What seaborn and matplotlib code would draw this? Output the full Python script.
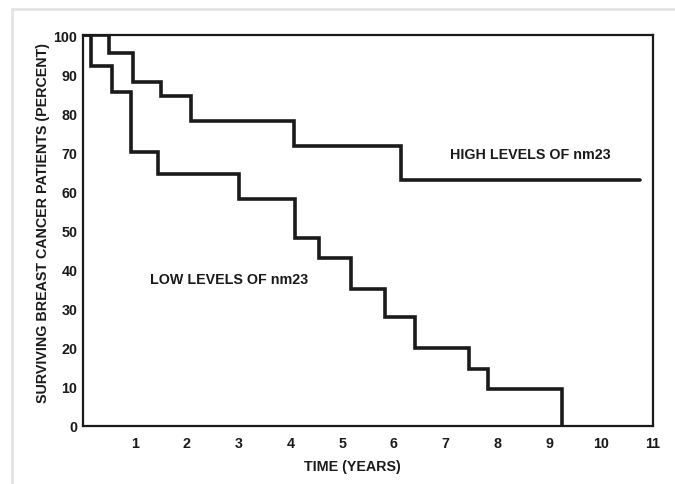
import matplotlib
matplotlib.use("Agg")
import matplotlib.pyplot as plt
from matplotlib.lines import Line2D
import seaborn as sns
import pandas as pd

# ---- data ----
high_times = [0, 0.50, 0.97, 1.50, 2.08, 4.08, 6.13, 10.75]
high_values = [100, 95.5, 88, 84.5, 78, 71.5, 63, 63]

low_times = [0, 0.15, 0.56, 0.93, 1.44, 3.02, 4.10, 4.55, 5.17, 5.83, 6.40, 7.45, 7.82, 9.25]
low_values = [100, 92, 85.5, 70, 64.5, 58, 48, 43, 35, 28, 20, 14.5, 9.5, 0]

x_ticks = [1, 2, 3, 4, 5, 6, 7, 8, 9, 10, 11]
y_ticks = [0, 10, 20, 30, 40, 50, 60, 70, 80, 90, 100]

x_label = "TIME (YEARS)"
y_label = "SURVIVING BREAST CANCER PATIENTS (PERCENT)"
high_label = "HIGH LEVELS OF nm23"
low_label = "LOW LEVELS OF nm23"

df = pd.concat([
    pd.DataFrame({"time": high_times, "survival": high_values, "group": "high"}),
    pd.DataFrame({"time": low_times, "survival": low_values, "group": "low"}),
], ignore_index=True)

sns.set_theme(style="white")
plt.rcParams["font.family"] = ["Liberation Sans", "DejaVu Sans"]
plt.rcParams["font.weight"] = "bold"

ink = "#1a1a1a"
W, H = 675, 485
fig = plt.figure(figsize=(W / 100, H / 100), dpi=100)
fig.patch.set_facecolor("white")
ax = fig.add_axes([83 / W, 1 - 427 / H, 570 / W, 391 / H])

sns.lineplot(data=df, x="time", y="survival", hue="group",
             palette={"high": ink, "low": ink}, estimator=None,
             drawstyle="steps-post", linewidth=2.6, legend=False, ax=ax,
             solid_joinstyle="miter")

ax.set_xlim(0, 11)
ax.set_ylim(0, 100)
ax.set_xticks(x_ticks)
ax.set_yticks(y_ticks)
ax.tick_params(axis="both", direction="in", length=5.5, width=1.3,
               color=ink, labelsize=10.3, labelcolor=ink)
ax.tick_params(axis="x", pad=7)
ax.tick_params(axis="y", pad=4)
for lab in ax.get_xticklabels() + ax.get_yticklabels():
    lab.set_fontweight("bold")

for s in ax.spines.values():
    s.set_visible(True)
    s.set_color(ink)
    s.set_linewidth(1.6)

ax.set_xlabel(x_label, fontsize=10.3, fontweight="bold", color=ink, va="center")
ax.xaxis.set_label_coords((352 - 83) / 570, (427 - 467) / 391)
ax.set_ylabel(y_label, fontsize=10.3, fontweight="bold", color=ink, va="center")
ax.yaxis.set_label_coords((43 - 83) / 570, (427 - 223) / 391)

ax.text(7.09, 69.6, high_label, fontsize=10.3, fontweight="bold", color=ink,
        ha="left", va="center")
ax.text(1.30, 37.6, low_label, fontsize=10.3, fontweight="bold", color=ink,
        ha="left", va="center")

# light gray outer frame of the reference image
border = "#e3e3e3"
fig.add_artist(Line2D([12 / W, 12 / W], [0, 1 - 10 / H], transform=fig.transFigure,
                      color=border, linewidth=2))
fig.add_artist(Line2D([12 / W, 1], [1 - 10 / H, 1 - 10 / H], transform=fig.transFigure,
                      color=border, linewidth=2))

fig.savefig("out.png", dpi=100, facecolor="white")
